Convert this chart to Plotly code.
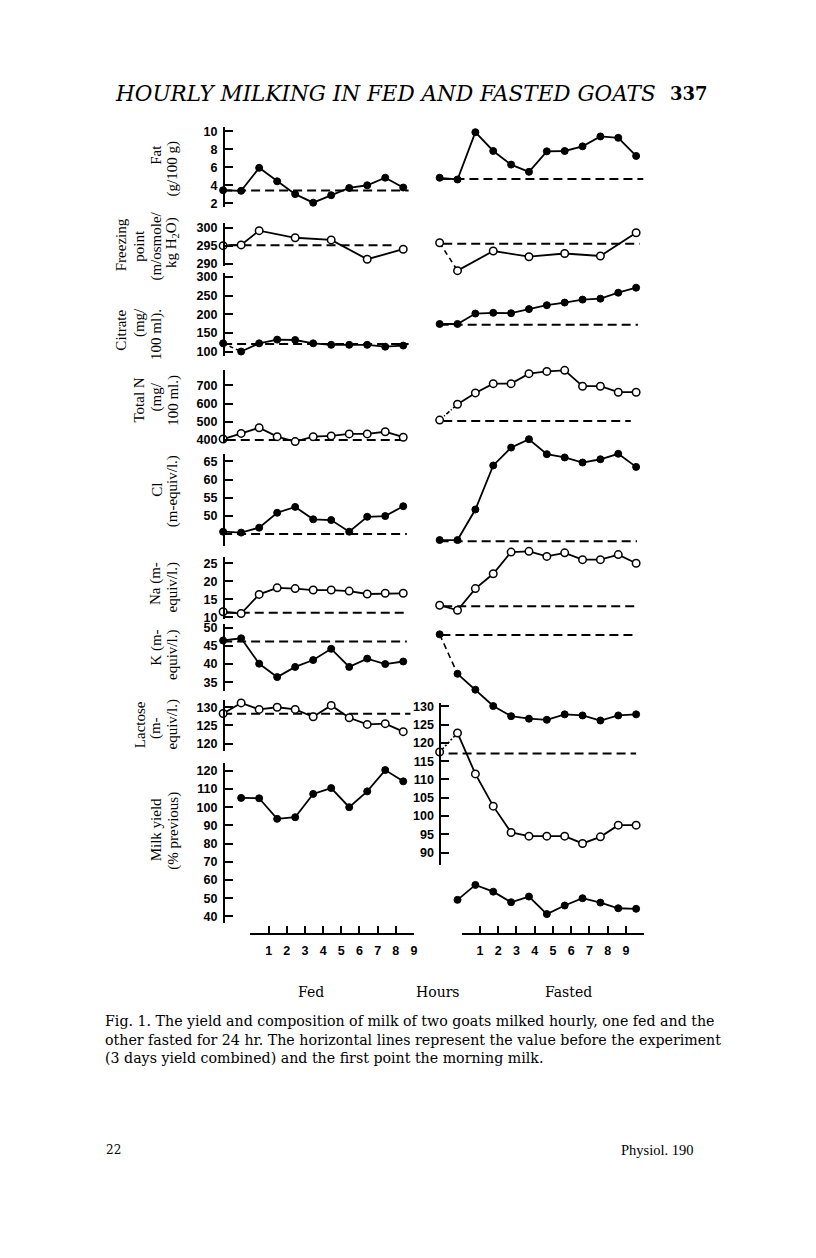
import plotly.graph_objects as go

# ---------------- data ----------------
FED_IDX = list(range(11))          # morning milk + hourly samples, fed goat
FAST_IDX = list(range(12))         # morning milk + hourly samples, fasted goat

FAT_FED = [3.45, 3.38, 5.93, 4.44, 3.02, 2.07, 2.90, 3.70, 4.00, 4.84, 3.75]
FAT_FAST = [4.83, 4.64, 9.88, 7.80, 6.29, 5.49, 7.76, 7.80, 8.31, 9.41, 9.26, 7.25]
FAT_BASE = {"fed": 3.42, "fast": 4.68}

FP_FED_IDX = [0, 1, 2, 4, 6, 8, 10]
FP_FED = [295.1, 295.3, 299.3, 297.3, 296.7, 291.3, 294.1]
FP_FAST_IDX = [0, 1, 3, 5, 7, 9, 11]
FP_FAST = [295.9, 288.1, 293.6, 292.0, 292.9, 292.2, 298.7]
FP_BASE = {"fed": 295.2, "fast": 295.6}

CIT_FED = [122, 100, 122, 132, 131, 122, 118, 118, 118, 113, 116]
CIT_FAST = [174, 174, 202, 204, 203, 214, 224.5, 231.5, 239.5, 242, 258, 271.5]
CIT_BASE = {"fed": 120, "fast": 172}

TN_FED = [405, 436, 467, 418, 391, 418, 422, 433, 433, 445, 415]
TN_FAST = [509, 596, 658, 709, 709, 764, 776, 782, 695, 695, 662, 662]
TN_BASE = {"fed": 400, "fast": 504}

CL_FED = [45.7, 45.45, 46.8, 50.9, 52.5, 49.1, 48.9, 45.7, 49.8, 50.0, 52.7]
CL_FAST = [43.4, 43.4, 51.8, 63.9, 68.8, 71.1, 67.0, 66.1, 64.7, 65.6, 67.1, 63.5]
CL_BASE = {"fed": 45.1, "fast": 43.1}

NA_FED = [11.6, 11.1, 16.4, 18.2, 18.0, 17.6, 17.6, 17.3, 16.5, 16.7, 16.7]
NA_FAST = [13.4, 12.0, 18.0, 22.1, 28.1, 28.3, 26.9, 27.9, 26.0, 26.0, 27.4, 25.0]
NA_BASE = {"fed": 11.3, "fast": 13.1}

K_FED = [46.5, 47.1, 40.1, 36.4, 39.2, 41.1, 44.2, 39.2, 41.5, 40.0, 40.7]
K_FAST = [48.2, 37.3, 32.9, 28.4, 25.6, 24.9, 24.6, 26.1, 25.8, 24.4, 25.8, 26.1]
K_BASE = {"fed": 46.2, "fast": 48.05}

LAC_FED = [128.3, 131.2, 129.4, 130.0, 129.4, 127.4, 130.5, 127.1, 125.3, 125.5, 123.3]
LAC_FAST = [117.5, 122.7, 111.5, 102.7, 95.5, 94.5, 94.5, 94.5, 92.5, 94.3, 97.5, 97.5]
LAC_BASE = {"fed": 128.2, "fast": 117.1}

MY_FED_IDX = list(range(1, 11))
MY_FED = [105.1, 104.9, 93.6, 94.5, 107.3, 110.5, 100.0, 108.7, 120.4, 114.2]
MY_FAST_IDX = list(range(1, 12))
MY_FAST = [49.1, 57.3, 53.6, 47.8, 50.9, 41.3, 46.0, 50.0, 47.6, 44.5, 44.2]

HOUR_TICKS_FED = list(range(0, 10))
HOUR_TICKS_FAST = list(range(0, 11))
HOUR_LABELS = ["1", "2", "3", "4", "5", "6", "7", "8", "9"]

# ---------------- geometry helpers (page-pixel layout) ----------------
PAGE_W, PAGE_H = 816, 1258
OFF = 8                                # default body margin of the html page
W, H = PAGE_W - OFF, PAGE_H - OFF
def fx(px):
    return (px - OFF) / W
def fy(py):
    return 1 - (py - OFF) / H

def data_xaxis(left_px, right_px, p0, step):
    return dict(domain=[fx(left_px), fx(right_px)],
                range=[(left_px - p0) / step, (right_px - p0) / step],
                visible=False, anchor="free", position=0, fixedrange=True)

TICKFONT = dict(family="Liberation Sans", size=12.5, color="black", weight="bold")

def yaxis(top_px, bot_px, v1, p1, v2, p2, ticks=None, xpos=None):
    slope = (p2 - p1) / (v2 - v1)
    v_top = v1 + (top_px - p1) / slope
    v_bot = v1 + (bot_px - p1) / slope
    d = dict(domain=[fy(bot_px), fy(top_px)], range=[v_bot, v_top],
             fixedrange=True, showgrid=False, zeroline=False)
    if ticks is None:
        d.update(visible=False, anchor="free", position=0)
    else:
        d.update(visible=True, anchor="free", position=fx(xpos), side="left",
                 showline=True, linecolor="black", linewidth=2,
                 ticks="inside", ticklen=8, tickwidth=2, tickcolor="black",
                 tickvals=ticks, ticktext=[str(t) for t in ticks],
                 tickfont=TICKFONT, ticklabelstandoff=3)
    return d

FED_AX_X = 225
FAST_AX_X = 442.5

PANELS = [
    ("fat", 125, 205, (10, 129), (2, 201.7), [2, 4, 6, 8, 10]),
    ("fp", 221.7, 265, (300, 226.7), (290, 262.7), [290, 295, 300]),
    ("cit", 271.7, 355, (300, 276), (100, 351), [100, 150, 200, 250, 300]),
    ("tn", 370, 443.3, (700, 385), (500, 421.7), [400, 500, 600, 700]),
    ("cl", 454.3, 547, (65, 461.7), (50, 516.7), [50, 55, 60, 65]),
    ("na", 558.3, 620, (25, 564.3), (15, 600.7), [10, 15, 20, 25]),
    ("k", 625, 693.3, (50, 629.3), (35, 684), [35, 40, 45, 50]),
    ("lac", 701.7, 753.3, (130, 709.3), (120, 746), [120, 125, 130]),
    ("my", 765, 926.7, (120, 773.3), (40, 920), [40, 50, 60, 70, 80, 90, 100, 110, 120]),
]

layout = dict(width=W, height=H, margin=dict(l=0, r=0, t=0, b=0),
              paper_bgcolor="white", plot_bgcolor="rgba(0,0,0,0)",
              showlegend=False)
layout["xaxis"] = data_xaxis(205, 425, 224.2, 18.1)
layout["xaxis2"] = data_xaxis(428, 662, 441.8, 17.95)

yref = {}
n = 1
for name, top, bot, a, b, ticks in PANELS:
    layout["yaxis" if n == 1 else f"yaxis{n}"] = yaxis(top, bot, a[0], a[1], b[0], b[1], ticks, FED_AX_X)
    yref[(name, "fed")] = "y" if n == 1 else f"y{n}"
    n += 1
for name, top, bot, a, b, ticks in PANELS:
    if name == "lac":
        layout[f"yaxis{n}"] = yaxis(705, 868.3, 130, 708.3, 90, 855.7,
                                   [90, 95, 100, 105, 110, 115, 120, 125, 130], FAST_AX_X)
    else:
        layout[f"yaxis{n}"] = yaxis(max(top - 45, OFF + 2), min(bot + 45, PAGE_H - 2),
                                   a[0], a[1], b[0], b[1])
    yref[(name, "fast")] = f"y{n}"
    n += 1

HOUR_Y = 937.5
def hour_axis(left, right, rng, vals, texts):
    return dict(domain=[fx(left), fx(right)], range=rng, anchor="free",
                position=fy(HOUR_Y), side="bottom", showline=True, linecolor="black",
                linewidth=2, ticks="inside", ticklen=7, tickwidth=2, tickcolor="black",
                tickvals=vals, ticktext=texts, tickfont=TICKFONT,
                showgrid=False, zeroline=False, fixedrange=True, ticklabelstandoff=5)
layout["xaxis3"] = hour_axis(251.7, 416.0, [0, 9], HOUR_TICKS_FED, [""] + HOUR_LABELS)
layout["xaxis4"] = hour_axis(464.0, 647.3, [0, 10], HOUR_TICKS_FAST, [""] + HOUR_LABELS + [""])

fig = go.Figure()
fig.add_trace(go.Scatter(x=[], y=[], xaxis="x3", yaxis="y", hoverinfo="skip"))
fig.add_trace(go.Scatter(x=[], y=[], xaxis="x4", yaxis="y", hoverinfo="skip"))

LINE = dict(color="black", width=1.8)
DASH = dict(color="black", width=2, dash="9px,5px")

def marker(filled):
    if filled:
        return dict(size=7, color="black", line=dict(color="black", width=1))
    return dict(size=7.5, color="white", line=dict(color="black", width=1.5))

def baseline(value, span, xa, ya):
    fig.add_trace(go.Scatter(x=span, y=[value, value], mode="lines", line=DASH,
                             xaxis=xa, yaxis=ya, hoverinfo="skip"))

def series(xs, ys, xa, ya, filled, first_dash=None):
    if first_dash:
        fig.add_trace(go.Scatter(x=xs[:2], y=ys[:2], mode="lines",
                                 line=dict(color="black", width=1.6, dash=first_dash),
                                 xaxis=xa, yaxis=ya, hoverinfo="skip"))
        fig.add_trace(go.Scatter(x=xs[1:], y=ys[1:], mode="lines+markers", line=LINE,
                                 marker=marker(filled), xaxis=xa, yaxis=ya, cliponaxis=False))
        fig.add_trace(go.Scatter(x=xs[:1], y=ys[:1], mode="markers",
                                 marker=marker(filled), xaxis=xa, yaxis=ya, cliponaxis=False))
    else:
        fig.add_trace(go.Scatter(x=xs, y=ys, mode="lines+markers", line=LINE,
                                 marker=marker(filled), xaxis=xa, yaxis=ya, cliponaxis=False))

FED_SPAN = [0, 10.3]
FAST_SPAN = [0, 11.1]

baseline(FAT_BASE["fed"], FED_SPAN, "x", yref[("fat", "fed")])
series(FED_IDX, FAT_FED, "x", yref[("fat", "fed")], True)
baseline(FAT_BASE["fast"], [0.1, 11.4], "x2", yref[("fat", "fast")])
series(FAST_IDX, FAT_FAST, "x2", yref[("fat", "fast")], True)

baseline(FP_BASE["fed"], [0.3, 9.6], "x", yref[("fp", "fed")])
series(FP_FED_IDX, FP_FED, "x", yref[("fp", "fed")], False)
baseline(FP_BASE["fast"], [0.2, 11.2], "x2", yref[("fp", "fast")])
series(FP_FAST_IDX, FP_FAST, "x2", yref[("fp", "fast")], False, first_dash="5px,4px")

baseline(CIT_BASE["fed"], FED_SPAN, "x", yref[("cit", "fed")])
series(FED_IDX, CIT_FED, "x", yref[("cit", "fed")], True, first_dash="4px,3px")
baseline(CIT_BASE["fast"], FAST_SPAN, "x2", yref[("cit", "fast")])
series(FAST_IDX, CIT_FAST, "x2", yref[("cit", "fast")], True)

baseline(TN_BASE["fed"], [0.2, 10.1], "x", yref[("tn", "fed")])
series(FED_IDX, TN_FED, "x", yref[("tn", "fed")], False)
baseline(TN_BASE["fast"], [0.2, 10.7], "x2", yref[("tn", "fast")])
series(FAST_IDX, TN_FAST, "x2", yref[("tn", "fast")], False, first_dash="4px,2px,1px,2px")

baseline(CL_BASE["fed"], [0, 10.2], "x", yref[("cl", "fed")])
series(FED_IDX, CL_FED, "x", yref[("cl", "fed")], True)
baseline(CL_BASE["fast"], [0, 11.05], "x2", yref[("cl", "fast")])
series(FAST_IDX, CL_FAST, "x2", yref[("cl", "fast")], True)

baseline(NA_BASE["fed"], [0.2, 10.2], "x", yref[("na", "fed")])
series(FED_IDX, NA_FED, "x", yref[("na", "fed")], False)
baseline(NA_BASE["fast"], [0.2, 11.1], "x2", yref[("na", "fast")])
series(FAST_IDX, NA_FAST, "x2", yref[("na", "fast")], False)

baseline(K_BASE["fed"], [0, 10.2], "x", yref[("k", "fed")])
series(FED_IDX, K_FED, "x", yref[("k", "fed")], True)
baseline(K_BASE["fast"], [0.1, 10.8], "x2", yref[("k", "fast")])
series(FAST_IDX, K_FAST, "x2", yref[("k", "fast")], True, first_dash="6px,4px")

baseline(LAC_BASE["fed"], [0, 10.4], "x", yref[("lac", "fed")])
series(FED_IDX, LAC_FED, "x", yref[("lac", "fed")], False)
baseline(LAC_BASE["fast"], [0.5, 11.0], "x2", yref[("lac", "fast")])
series(FAST_IDX, LAC_FAST, "x2", yref[("lac", "fast")], False, first_dash="2px,2px")

series(MY_FED_IDX, MY_FED, "x", yref[("my", "fed")], True)
series(MY_FAST_IDX, MY_FAST, "x2", yref[("my", "fast")], True)

# ---------------- text ----------------
SERIF = "Liberation Serif"
WIDE_SERIF = "DejaVu Serif"
ann = []
def label(text, xpx, ypx, size=15):
    ann.append(dict(text=text, x=fx(xpx), y=fy(ypx), xref="paper", yref="paper",
                    textangle=-90, showarrow=False, xanchor="center", yanchor="middle",
                    font=dict(family=SERIF, size=size, color="black")))

C1, C2, C3, C4 = 121.5, 140, 157, 173.5
label("Fat", C3, 152.5)
label("(g/100 g)", C4, 167)
label("Freezing", C1, 243)
label("point", C2, 244)
label("(m/osmole/", C3, 245)
label("kg H<sub>2</sub>O)", C4, 241)
label("Citrate", C1, 329)
label("(mg/", C2, 322)
label("100 ml).", C3, 334)
label("Total N", C2, 400)
label("(mg/", C3, 397)
label("100 ml.)", C4, 400)
label("Cl", C3, 490)
label("(m-equiv/l.)", C4, 492)
label("Na (m-", C3, 585)
label("equiv/l.)", C4, 589)
label("K (m-", C3, 649)
label("equiv/l.)", C4, 657)
label("Lactose", C2, 727)
label("(m-", C3, 730)
label("equiv/l.)", C4, 727)
label("Milk yield", C3, 833)
label("(% previous)", C4, 834)

def text(t, xpx, ypx, size, xanchor="center", family=SERIF, italic=False, bold=False):
    f = dict(family=family, size=size, color="black")
    if italic:
        f["style"] = "italic"
    if bold:
        f["weight"] = "bold"
    ann.append(dict(text=t, x=fx(xpx), y=fy(ypx), xref="paper", yref="paper",
                    showarrow=False, xanchor=xanchor, yanchor="middle", font=f))

text("HOURLY MILKING IN FED AND FASTED GOATS", 387.5, 91, 21.5, family=WIDE_SERIF, italic=True)
text("337", 692, 91, 18, family=WIDE_SERIF, bold=True)
text("Fed", 313, 996, 14, family=WIDE_SERIF)
text("Hours", 440, 996, 14, family=WIDE_SERIF)
text("Fasted", 571, 996, 14, family=WIDE_SERIF)
CAP = ["Fig. 1. The yield and composition of milk of two goats milked hourly, one fed and the",
       "other fasted for 24 hr. The horizontal lines represent the value before the experiment",
       "(3 days yield combined) and the first point the morning milk."]
for i, line in enumerate(CAP):
    text(line, 103, 1025 + 19 * i, 14.2, xanchor="left", family=WIDE_SERIF)
text("22", 114, 1155, 12, family=WIDE_SERIF)
text("Physiol. 190", 661, 1155, 14.5, family=SERIF)

layout["annotations"] = ann
fig.update_layout(**layout)
fig.write_html("out.html")
